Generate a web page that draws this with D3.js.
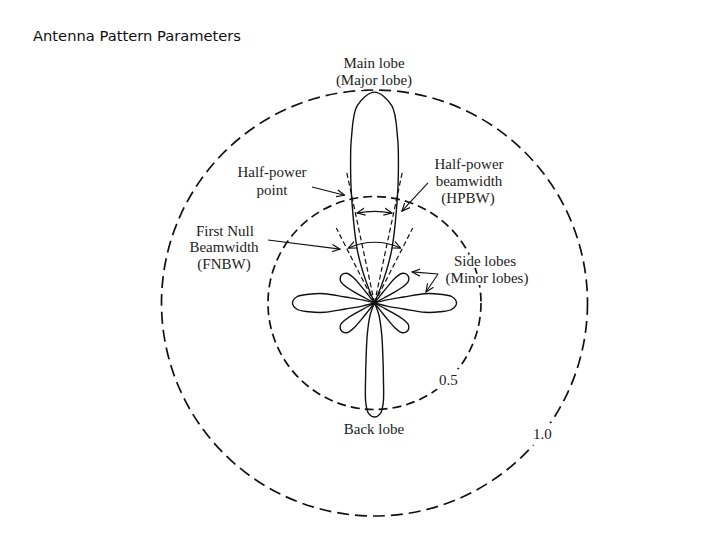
<html>
<head>
<script src="https://d3js.org/d3.v7.min.js"></script>
<style>
  body { margin: 0; background: #fff; }
  svg { display: block; }
  .title { font-family: "DejaVu Sans", sans-serif; font-size: 14.7px; fill: #111; }
  .lbl { font-family: "Liberation Serif", serif; font-size: 15px; fill: #222; text-anchor: middle;
         stroke: #fff; stroke-width: 4px; paint-order: stroke; stroke-linejoin: round; }
</style>
</head>
<body>
<svg width="720" height="540"></svg>
<script>
// reference circles (relative level)
var rings = [0.5, 1.0];
var ringDash = ["9,5", "12,6"];
var ringLabels = ["0.5", "1.0"];
var ringLabelAngle = [136, 128];

// lobes: [angle offset from lobe axis (deg), relative level]
var mainLobe = [[0,0],[-21,0.13],[-18,0.26],[-12,0.52],[-9.5,0.68],[-8,0.78],[-5,0.93],[0,0.99],
                [5,0.93],[8,0.78],[9.5,0.68],[12,0.52],[18,0.26],[21,0.13],[0,0]];
var backLobe = [[0,0],[-20,0.06],[-13,0.15],[-9,0.25],[-6.7,0.36],[-5,0.47],[-3,0.52],[0,0.535],
                [3,0.52],[5,0.47],[6.7,0.36],[9,0.25],[13,0.15],[20,0.06],[0,0]];
var sideLobe = [[0,0],[-14,0.06],[-11.5,0.14],[-10.5,0.24],[-7.6,0.31],[-4.6,0.365],[0,0.385],
                [4.6,0.365],[7.6,0.31],[10.5,0.24],[11.5,0.14],[14,0.06],[0,0]];
var minorLobe = [[0,0],[-12,0.05],[-11.5,0.1],[-10.5,0.15],[-7.5,0.188],[-3.5,0.2],[0,0.203],
                 [3.5,0.2],[7.5,0.188],[10.5,0.15],[11.5,0.1],[12,0.05],[0,0]];
var sideDirs = [-90, 90];
var minorDirs = [-50, 50, -130, 130];

// beamwidth construction lines [angle, length]
var hpbwLines = [[-12, 0.63], [12, 0.63]];
var fnbwLines = [[-27, 0.395], [27, 0.395]];
// beamwidth arcs [from, to, radius]
var bwArcs = [[-11, 11, 0.43], [-25.5, 25.5, 0.285]];

// annotation arrows [[angle, level] start, [angle, level] end]
var pointers = [
  [[-28.3, 0.619], [-15.5, 0.525]],   // half-power point
  [[24, 0.617], [16.6, 0.45]],        // HPBW
  [[-59.4, 0.581], [-32.6, 0.30]],    // FNBW
  [[65.5, 0.328], [50.4, 0.229]],     // side lobe (upper)
  [[65.5, 0.328], [78, 0.247]]        // side lobe (right)
];

var labels = [
  ["Main lobe", 374, 68], ["(Major lobe)", 374, 85],
  ["Half-power", 272, 177], ["point", 272, 195],
  ["Half-power", 469, 169], ["beamwidth", 469, 186], ["(HPBW)", 468, 203],
  ["First Null", 225, 236], ["Beamwidth", 224, 252], ["(FNBW)", 224, 269],
  ["Side lobes", 485, 266], ["(Minor lobes)", 487, 283],
  ["Back lobe", 374, 434]
];

var svg = d3.select("svg");
svg.append("text").attr("class", "title").attr("x", 33).attr("y", 41).text("Antenna Pattern Parameters");

var cx = 374.5, cy = 303;
var r = d3.scaleLinear().domain([0, 1]).range([0, 213]);
var rad = function(deg) { return deg * Math.PI / 180; };
var pt = function(a, v) { return [r(v) * Math.sin(rad(a)), -r(v) * Math.cos(rad(a))]; };

// arrow head
var defs = svg.append("defs");
defs.append("marker")
  .attr("id", "head")
  .attr("viewBox", "0 0 10 10")
  .attr("refX", 9).attr("refY", 5)
  .attr("markerWidth", 9).attr("markerHeight", 9)
  .attr("markerUnits", "userSpaceOnUse")
  .attr("orient", "auto-start-reverse")
  .append("path")
  .attr("d", "M0,1 L9,5 L0,9")
  .attr("fill", "none").attr("stroke", "#111").attr("stroke-width", 1.3);

var g = svg.append("g").attr("transform", "translate(" + cx + "," + cy + ")");

// dashed level circles
g.selectAll(".ring").data(rings).enter().append("circle")
  .attr("class", "ring")
  .attr("r", function(d) { return r(d); })
  .attr("fill", "none")
  .attr("stroke", "#111")
  .attr("stroke-width", 1.7)
  .attr("stroke-dasharray", function(d, i) { return ringDash[i]; });

// lobes
function lobe(shape, dir) {
  return d3.lineRadial()
    .angle(function(d) { return rad(dir + d[0]); })
    .radius(function(d) { return r(d[1]); })
    .curve(d3.curveCatmullRom.alpha(0.5))(shape);
}
var lobeG = g.append("g").attr("fill", "none").attr("stroke", "#111").attr("stroke-width", 1.4);
lobeG.append("path").attr("d", lobe(mainLobe, 0));
lobeG.append("path").attr("d", lobe(backLobe, 180));
sideDirs.forEach(function(a) { lobeG.append("path").attr("d", lobe(sideLobe, a)); });
minorDirs.forEach(function(a) { lobeG.append("path").attr("d", lobe(minorLobe, a)); });

// dashed beamwidth lines
g.selectAll(".bwl").data(hpbwLines.concat(fnbwLines)).enter().append("line")
  .attr("class", "bwl")
  .attr("x1", 0).attr("y1", 0)
  .attr("x2", function(d) { return pt(d[0], d[1])[0]; })
  .attr("y2", function(d) { return pt(d[0], d[1])[1]; })
  .attr("stroke", "#111").attr("stroke-width", 1.2)
  .attr("stroke-dasharray", "5,3");

// beamwidth arcs with arrow heads
g.selectAll(".arc").data(bwArcs).enter().append("path")
  .attr("class", "arc")
  .attr("d", function(d) {
    var p = d3.path();
    var s = pt(d[0], d[2]);
    p.moveTo(s[0], s[1]);
    p.arc(0, 0, r(d[2]), rad(d[0] - 90), rad(d[1] - 90));
    return p.toString();
  })
  .attr("fill", "none").attr("stroke", "#111").attr("stroke-width", 1.1)
  .attr("marker-start", "url(#head)").attr("marker-end", "url(#head)");

// label pointers
g.selectAll(".ptr").data(pointers).enter().append("line")
  .attr("class", "ptr")
  .attr("x1", function(d) { return pt(d[0][0], d[0][1])[0]; })
  .attr("y1", function(d) { return pt(d[0][0], d[0][1])[1]; })
  .attr("x2", function(d) { return pt(d[1][0], d[1][1])[0]; })
  .attr("y2", function(d) { return pt(d[1][0], d[1][1])[1]; })
  .attr("stroke", "#111").attr("stroke-width", 1.1)
  .attr("marker-end", "url(#head)");

// ring level labels sit on the circles
g.selectAll(".rl").data(rings).enter().append("text")
  .attr("class", "lbl")
  .style("stroke-width", "12px")
  .attr("x", function(d, i) { return pt(ringLabelAngle[i], d)[0]; })
  .attr("y", function(d, i) { return pt(ringLabelAngle[i], d)[1] + 5; })
  .text(function(d, i) { return ringLabels[i]; });

svg.selectAll(".txt").data(labels).enter().append("text")
  .attr("class", "lbl")
  .attr("x", function(d) { return d[1]; })
  .attr("y", function(d) { return d[2]; })
  .text(function(d) { return d[0]; });
</script>
</body>
</html>
